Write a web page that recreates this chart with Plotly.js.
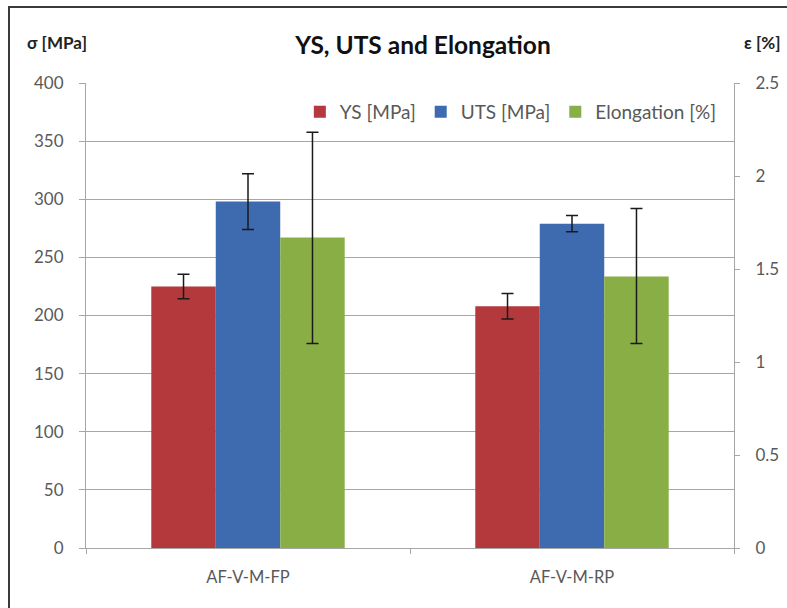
<!DOCTYPE html>
<html>
<head>
<meta charset="utf-8">
<script src="https://cdn.plot.ly/plotly-3.0.1.min.js"></script>
<style>
  html, body { margin: 0; padding: 0; background: #fff; }
  #wrap { position: relative; width: 787px; height: 608px; overflow: hidden; }
  #chart { position: absolute; left: 0; top: 0; width: 787px; height: 608px; }
  #frame { position: absolute; left: 8px; top: 6px; width: 800px; height: 620px;
           border-top: 2px solid #3a3a3a; border-left: 2px solid #3a3a3a; pointer-events: none; }
</style>
</head>
<body>
<div id="wrap"><div id="chart"></div><div id="frame"></div></div>
<script>
// ---- data ----
const categories = ["AF-V-M-FP", "AF-V-M-RP"];
const ysValues = [225, 208];          // MPa
const ysErr = [10.5, 11];
const utsValues = [298, 279];         // MPa
const utsErr = [24, 7];
const elongValues = [1.67, 1.46];     // %
const elongErrPlus = [0.565, 0.365];
const elongErrMinus = [0.57, 0.36];
const seriesNames = ["YS [MPa]", "UTS [MPa]", "Elongation [%]"];
const leftTicks = [0, 50, 100, 150, 200, 250, 300, 350, 400];
const rightTicks = [0, 0.5, 1, 1.5, 2, 2.5];
const rightTickText = ["0", "0.5", "1", "1.5", "2", "2.5"];

const FONT = "Lato, 'Open Sans', sans-serif";
const barW = 0.199;
const errStyle = { color: "#1a1a1a", thickness: 1.5, width: 6 };

const traces = [
  { type: "bar", name: seriesNames[0], x: categories, y: ysValues,
    width: barW, offset: -1.5 * barW, marker: { color: "#B3393D" },
    error_y: Object.assign({ type: "data", array: ysErr, visible: true }, errStyle) },
  { type: "bar", name: seriesNames[1], x: categories, y: utsValues,
    width: barW, offset: -0.5 * barW, marker: { color: "#3E6AAF" },
    error_y: Object.assign({ type: "data", array: utsErr, visible: true }, errStyle) },
  { type: "bar", name: seriesNames[2], x: categories, y: elongValues, yaxis: "y2",
    width: barW, offset: 0.5 * barW, marker: { color: "#8AAE46" },
    error_y: Object.assign({ type: "data", array: elongErrPlus, arrayminus: elongErrMinus, symmetric: false, visible: true }, errStyle) }
];

const tickFont = { family: FONT, size: 17, color: "#595959" };

const layout = {
  width: 787, height: 608,
  margin: { l: 86, r: 53, t: 83, b: 60 },
  paper_bgcolor: "#ffffff", plot_bgcolor: "#ffffff",
  font: { family: FONT, size: 17, color: "#595959" },
  showlegend: true,
  barmode: "overlay",
  title: { text: "<b>YS, UTS and Elongation</b>", font: { family: FONT, size: 24.5, color: "#111111" },
           x: 0.52, xref: "paper", xanchor: "center", y: 0.925, yref: "container", yanchor: "middle" },
  legend: { orientation: "h", x: 0.330, xanchor: "left", y: 0.9376, yanchor: "middle",
            font: { family: FONT, size: 19, color: "#595959" }, bgcolor: "rgba(0,0,0,0)",
            itemwidth: 30, tracegroupgap: 0, traceorder: "normal" },
  xaxis: { type: "category", showgrid: false, showline: true, linecolor: "#a6a6a6", linewidth: 1,
           ticks: "outside", tickson: "boundaries", ticklen: 5, tickcolor: "#a6a6a6",
           tickfont: { family: FONT, size: 16.5, color: "#595959" }, ticklabelstandoff: 14,
           zeroline: false, fixedrange: true },
  yaxis: { range: [0, 400], tickvals: leftTicks, showgrid: true, gridcolor: "#a6a6a6", gridwidth: 1,
           showline: true, linecolor: "#a6a6a6", linewidth: 1, ticks: "outside", ticklen: 6, tickcolor: "#a6a6a6",
           tickfont: tickFont, ticklabelstandoff: 12, zeroline: false },
  yaxis2: { range: [0, 2.5], tickvals: rightTicks, ticktext: rightTickText, overlaying: "y", side: "right",
            showgrid: false, showline: true, linecolor: "#a6a6a6", linewidth: 1, ticks: "outside", ticklen: 5,
            tickcolor: "#a6a6a6", tickfont: tickFont, ticklabelstandoff: 12,
            zeroline: false },
  annotations: [
    { text: "<b>σ [MPa]</b>", xref: "paper", yref: "paper", x: -0.045, y: 1.088, xanchor: "center", yanchor: "middle",
      showarrow: false, font: { family: FONT, size: 17, color: "#222222" } },
    { text: "<b>ε [%]</b>", xref: "paper", yref: "paper", x: 1.012, y: 1.088, xanchor: "left", yanchor: "middle",
      showarrow: false, font: { family: FONT, size: 17, color: "#222222" } }
  ]
};

Plotly.newPlot("chart", traces, layout, { displayModeBar: false, staticPlot: true });
</script>
</body>
</html>
